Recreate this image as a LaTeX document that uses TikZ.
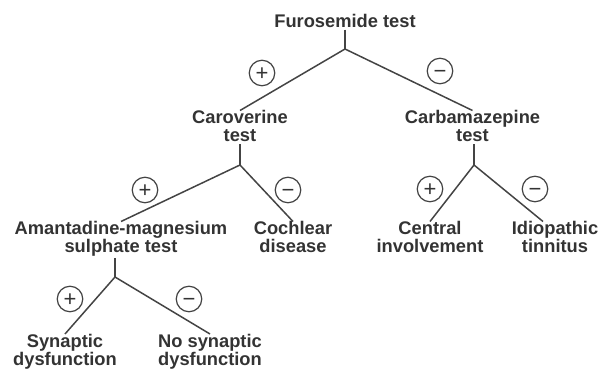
\documentclass[tikz,border=0pt]{standalone}
\usepackage{fontspec}
\setmainfont{Liberation Sans}
\usetikzlibrary{calc}
\definecolor{ink}{HTML}{333333}
\definecolor{wire}{HTML}{444444}
\begin{document}
\begin{tikzpicture}[x=1pt,y=-1pt,
  lbl/.style={anchor=north, align=center, inner sep=0pt, text=ink,
    font=\bfseries\fontsize{18.3}{18}\selectfont,
    execute at begin node=\rule{0pt}{13.5pt}},
  sign/.style={circle, draw=wire, line width=1.2pt, minimum size=25.5pt,
    inner sep=0pt, text=ink, text height=15.4pt, text depth=0pt,
    font=\fontsize{22}{22}\selectfont},
  conn/.style={draw=wire, line width=1.5pt, line join=miter}]
\useasboundingbox (0,0) rectangle (603,369);

% labels
\node[lbl] (furo)  at (345,13.5)  {Furosemide test};
\node[lbl] (caro)  at (240,110.5) {Caroverine\\test};
\node[lbl] (carba) at (472.5,110.5) {Carbamazepine\\test};
\node[lbl] (aman)  at (121,221.5) {Amantadine-magnesium\\sulphate test};
\node[lbl] (coch)  at (293,221.5) {Cochlear\\disease};
\node[lbl] (cent)  at (430,221.5) {Central\\involvement};
\node[lbl] (idio)  at (555,221.5) {Idiopathic\\tinnitus};
\node[lbl] (syn)   at (65,334)    {Synaptic\\dysfunction};
\node[lbl] (nosyn) at (210,334)   {No synaptic\\dysfunction};

% junctions
\coordinate (j0) at (345,49);
\coordinate (j1) at (240,165);
\coordinate (j2) at (474,165);
\coordinate (j3) at (115,277);

% connectors
\draw[conn] ($(j0 |- furo.south)+(0,2)$) -- (j0);
\draw[conn] (caro.north) -- (j0) -- (carba.north);
\draw[conn] ($(j1 |- caro.south)+(0,2)$) -- (j1);
\draw[conn] (aman.north) -- (j1) -- (coch.north);
\draw[conn] ($(j2 |- carba.south)+(0,2)$) -- (j2);
\draw[conn] (cent.north) -- (j2) -- ($(idio.north)+(-12,0)$);
\draw[conn] ($(j3 |- aman.south)+(0,1)$) -- (j3);
\draw[conn] (syn.north) -- (j3) -- (nosyn.north);

% signs
\node[sign] (s0p) at (262,73) {+};
\node[sign] (s0m) at (440,71) {−};
\node[sign] (s1p) at (145,190) {+};
\node[sign] (s1m) at (288,190) {−};
\node[sign] (s2p) at (430,189) {+};
\node[sign] (s2m) at (535,189) {−};
\node[sign] (s3p) at (70,299) {+};
\node[sign] (s3m) at (189,299) {−};
\end{tikzpicture}
\end{document}
